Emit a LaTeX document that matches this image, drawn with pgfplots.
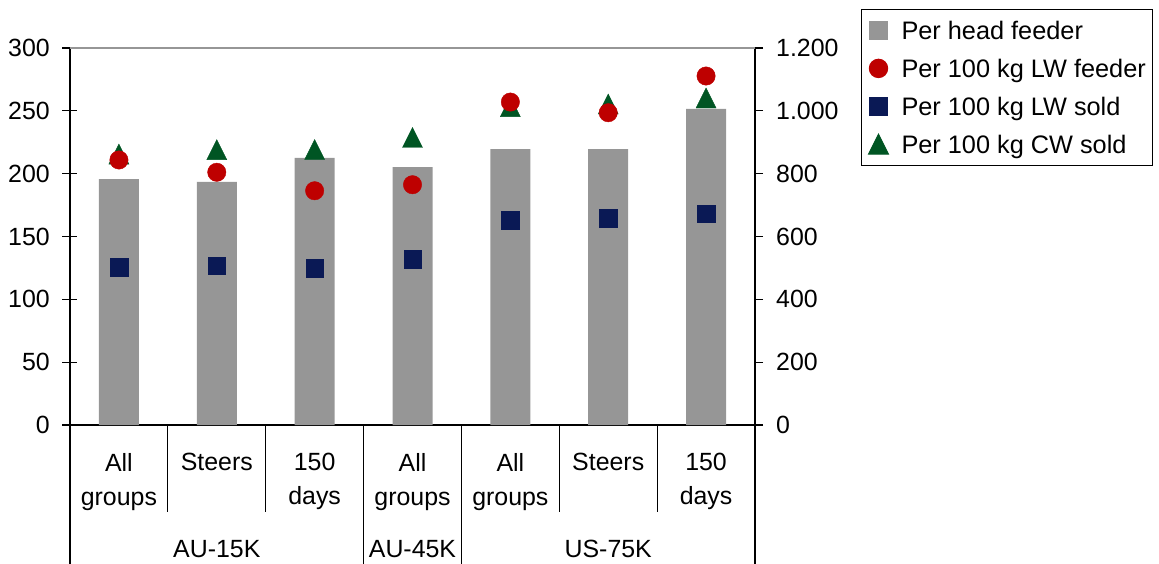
\documentclass[border=0pt]{standalone}
\usepackage{fontspec}
\setmainfont{Liberation Sans}
\usepackage{pgfplots}
\pgfplotsset{compat=1.18}

\definecolor{barGray}{RGB}{150,150,150}
\definecolor{lwRed}{RGB}{190,0,0}
\definecolor{soldNavy}{RGB}{10,25,85}
\definecolor{cwGreen}{RGB}{0,85,35}

% upright triangle whose bounding box is centred on the data point
\pgfdeclareplotmark{boxtri}{%
  \pgfpathmoveto{\pgfqpoint{0pt}{\pgfplotmarksize}}%
  \pgfpathlineto{\pgfqpoint{-\pgfplotmarksize}{-\pgfplotmarksize}}%
  \pgfpathlineto{\pgfqpoint{\pgfplotmarksize}{-\pgfplotmarksize}}%
  \pgfpathclose
  \pgfusepathqfillstroke}

\pgfplotsset{
  costbase/.style={
    scale only axis, width=685bp, height=377bp,
    at={(0,0)}, anchor=south west,
    xmin=-0.5, xmax=6.5, clip=false,
    axis line style={-, line width=1.2bp, black},
    every tick/.style={line width=1.2bp, black},
    every tick label/.append style={font=\fontsize{25}{34}\selectfont},
    /pgf/number format/assume math mode=true,
    scaled y ticks=false,
  },
}

\begin{document}
\begin{tikzpicture}
% per head (right scale) with the category axis
\begin{axis}[costbase,
  ymin=0, ymax=1200,
  axis y line*=right, axis x line*=bottom,
  ytick={0,200,...,1200},
  tick align=outside, major tick length=8bp,
  yticklabel style={anchor=west, inner sep=0pt, xshift=13bp,
    /pgf/number format/1000 sep={.}},
  xtick={0,...,6},
  xticklabels={{All\\groups},Steers,{150\\days},{All\\groups},{All\\groups},Steers,{150\\days}},
  xticklabel style={align=center, anchor=north, inner sep=0pt, yshift=-20bp},
  xtick style={draw=none},
]
\addplot[ybar, bar width=40bp, fill=barGray, draw=none] coordinates {
  (0,783) (1,774) (2,850) (3,821) (4,878) (5,878) (6,1006)};

% category dividers under the axis
\draw[line width=1.2bp] (axis cs:0.5,0) -- ++(0pt,-87bp);
\draw[line width=1.2bp] (axis cs:1.5,0) -- ++(0pt,-87bp);
\draw[line width=1.2bp] (axis cs:4.5,0) -- ++(0pt,-87bp);
\draw[line width=1.2bp] (axis cs:5.5,0) -- ++(0pt,-87bp);
\draw[line width=1.2bp] (axis cs:-0.5,0) -- ++(0pt,-139bp);
\draw[line width=1.2bp] (axis cs:2.5,0) -- ++(0pt,-139bp);
\draw[line width=1.2bp] (axis cs:3.5,0) -- ++(0pt,-139bp);
\draw[line width=1.2bp] (axis cs:6.5,0) -- ++(0pt,-139bp);

% group names
\node[anchor=base, inner sep=0pt, font=\fontsize{25}{30}\selectfont]
  at ([yshift=-132bp]axis cs:1,0) {AU-15K};
\node[anchor=base, inner sep=0pt, font=\fontsize{25}{30}\selectfont]
  at ([yshift=-132bp]axis cs:3,0) {AU-45K};
\node[anchor=base, inner sep=0pt, font=\fontsize{25}{30}\selectfont]
  at ([yshift=-132bp]axis cs:5,0) {US-75K};
\end{axis}

% per 100 kg figures (left scale)
\begin{axis}[costbase,
  ymin=0, ymax=300,
  axis y line*=left, axis x line=none,
  xtick=\empty,
  ytick={0,50,...,300},
  tick align=center, major tick length=15bp,
  yticklabel style={anchor=east, inner sep=0pt, xshift=-12.5bp},
  legend image code/.code={\draw[#1] plot coordinates {(0bp,0bp)};},
  legend style={
    at={(axis description cs:1.15474,1.10345)}, anchor=north west,
    draw=black, line width=1bp,
    font=\fontsize{25.4}{30}\selectfont,
    inner xsep=7bp, inner ysep=8bp,
    row sep=11.9bp, column sep=13bp,
    nodes={inner sep=0pt, text height=22bp, text depth=4bp},
  },
  legend cell align=left,
]
% top edge of the plot area
\draw[barGray, line width=1.5bp] (rel axis cs:0,1) -- (rel axis cs:1,1);

\addplot[only marks, mark=boxtri, mark size=10bp, color=cwGreen, forget plot] coordinates {
  (0,215.6) (1,219.1) (2,219.2) (3,228.8) (4,253.3) (5,255.4) (6,260.2)};
\addplot[only marks, mark=square*, mark size=8.8bp, color=soldNavy, forget plot] coordinates {
  (0,125.7) (1,126.8) (2,124.7) (3,131.9) (4,163.1) (5,164.5) (6,168.1)};
\addplot[only marks, mark=*, mark size=9.2bp, color=lwRed, forget plot] coordinates {
  (0,210.9) (1,201.1) (2,186.4) (3,191.2) (4,257.0) (5,248.5) (6,277.7)};

\addlegendimage{only marks, mark=square*, mark size=8.8bp, color=barGray}
\addlegendentry{Per head feeder}
\addlegendimage{only marks, mark=*, mark size=9.2bp, color=lwRed}
\addlegendentry{Per 100 kg LW feeder}
\addlegendimage{only marks, mark=square*, mark size=8.8bp, color=soldNavy}
\addlegendentry{Per 100 kg LW sold}
\addlegendimage{only marks, mark=boxtri, mark size=10bp, color=cwGreen}
\addlegendentry{Per 100 kg CW sold}
\end{axis}

\pgfresetboundingbox
\path[use as bounding box] (-70bp,-139bp) rectangle (1089bp,425bp);
\end{tikzpicture}
\end{document}
